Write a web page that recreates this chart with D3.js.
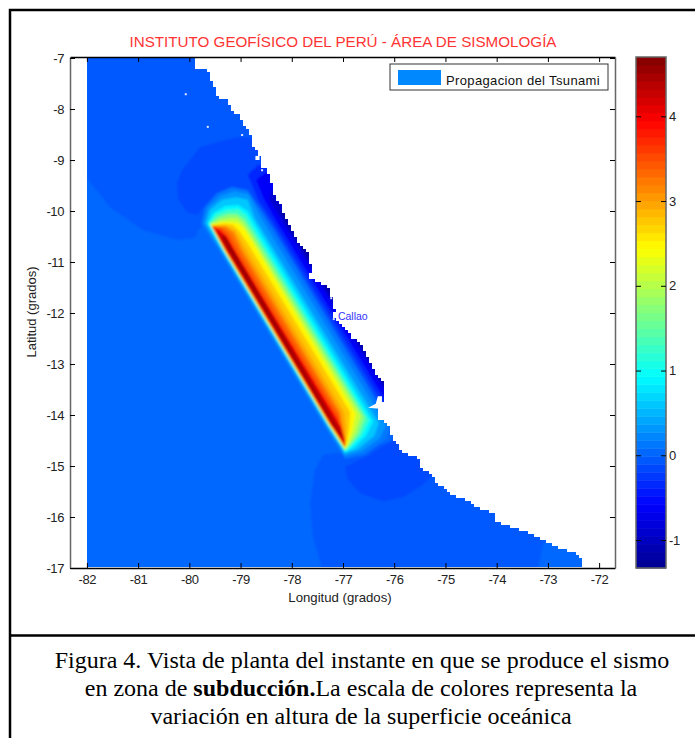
<!DOCTYPE html>
<html>
<head>
<meta charset="utf-8">
<script src="https://cdnjs.cloudflare.com/ajax/libs/d3/7.8.5/d3.min.js"></script>
<style>
  html, body { margin: 0; padding: 0; background: #fff; }
  svg { display: block; }
  text { font-family: "Liberation Sans", Arial, sans-serif; }
</style>
</head>
<body>
<div id="mapa"></div>
<script>
// ticks and labels
const lonTicks = [-82, -81, -80, -79, -78, -77, -76, -75, -74, -73, -72]
const latTicks = [-7, -8, -9, -10, -11, -12, -13, -14, -15, -16, -17]
const barTicks = [4, 3, 2, 1, 0, -1]
const titulo = "INSTITUTO GEOFÍSICO DEL PERÚ - ÁREA DE SISMOLOGÍA"
const leyenda = "Propagacion del Tsunami"

// colormap anchors (jet)
const jetPos = [0, .125, .375, .625, .875, 1]
const jetCol = ["#00008f", "#0000ff", "#00ffff", "#ffff00", "#ff0000", "#800000"]

// coast, lon/lat, ocean is on the left of it
const costa = [[-82,-6.98],[-79.89,-6.98],[-79.89,-7.20],[-79.64,-7.20],[-79.58,-7.43],[-79.48,-7.59],[-79.46,-7.75],[-79.27,-7.82],
  [-79.17,-8.02],[-79.01,-8.14],[-78.91,-8.33],[-78.78,-8.55],[-78.76,-8.76],[-78.64,-8.86],[-78.58,-9.14],[-78.48,-9.16],
  [-78.43,-9.35],[-78.33,-9.73],[-78.23,-9.82],[-78.21,-9.94],[-78.09,-10.18],[-77.98,-10.41],[-77.88,-10.63],[-77.70,-10.76],
  [-77.61,-11.12],[-77.68,-11.31],[-77.45,-11.39],[-77.29,-11.51],[-77.20,-11.75],[-77.16,-11.98],[-77.20,-12.10],[-77.00,-12.24],
  [-76.82,-12.49],[-76.67,-12.59],[-76.53,-12.86],[-76.37,-13.18],[-76.22,-13.37],[-76.18,-13.65],[-76.28,-13.84],[-76.32,-14.10],
  [-76.12,-14.16],[-76.08,-14.35],[-75.93,-14.59],[-75.83,-14.73],[-75.54,-14.84],[-75.44,-15.08],[-75.24,-15.18],[-75.18,-15.33],
  [-75.01,-15.43],[-74.85,-15.57],[-74.52,-15.71],[-74.42,-15.80],[-74.07,-15.92],[-74.03,-16.06],[-73.74,-16.20],[-73.35,-16.31],
  [-73.09,-16.47],[-72.86,-16.55],[-72.76,-16.63],[-72.37,-16.73],[-72.35,-17],[-82,-17]]

// little islands / holes
const islotes = [[-80.07,-7.71],[-79.64,-8.35],[-78.97,-8.51],[-78.58,-9.2],[-77.23,-11.71],[-77.18,-12.12]]
const bahia = [[-76.51,-13.86],[-76.36,-13.78],[-76.32,-13.63],[-76.24,-13.63],[-76.24,-13.88]]
const hueco = [[-78.71,-8.92],[-78.63,-8.92],[-78.63,-9.0],[-78.71,-9.0]]

// sea level in the background, 0 everywhere except these patches
const nivelMar = 0
const nivelesFondo = [-0.09, -0.18, -0.09, -0.18]
const zonasFondo = [
  [[-82,-6.98],[-77.45,-6.98],[-77.45,-10.37],[-79.64,-10.22],[-79.83,-10.37],[-79.89,-10.53],[-80.24,-10.57],[-80.91,-10.37],[-81.55,-9.92],[-82,-9.35]],
  [[-80.24,-9.45],[-80.14,-9.20],[-79.79,-8.75],[-79.07,-8.55],[-78.70,-8.57],[-78.43,-9.59],[-79.01,-9.59],[-79.50,-9.69],[-79.70,-9.88],[-79.85,-10.08],[-80.05,-10.02],[-80.22,-9.75]],
  [[-76.98,-14.73],[-77.39,-14.78],[-77.55,-15.08],[-77.64,-15.73],[-77.59,-16.39],[-77.41,-17],[-73.19,-17],[-73.11,-16.61],[-73.0,-16.35],[-73.93,-15.47],[-75.89,-14.49]],
  [[-76.96,-15.02],[-76.90,-15.27],[-76.67,-15.53],[-76.22,-15.69],[-75.83,-15.61],[-75.44,-15.37],[-75.18,-15.12],[-75.50,-14.49],[-75.89,-14.39],[-76.47,-14.78]]
]

// subsidence along the coast
const nivelesCosta = [-0.15, -0.3, -0.58, -0.9, -1.2]
const zonasCosta = [
  [[-78.82,-9.10],[-78.93,-9.29],[-78.78,-9.78],[-78.43,-10.22],[-76.30,-13.78],[-75.50,-13.78],[-75.50,-9.10]],
  [[-78.66,-9.10],[-78.86,-9.29],[-78.66,-9.78],[-78.37,-10.22],[-76.24,-13.75],[-75.50,-13.75],[-75.50,-9.10]],
  [[-78.50,-9.24],[-78.70,-9.39],[-78.54,-9.78],[-78.29,-10.22],[-76.20,-13.67],[-75.50,-13.67],[-75.50,-9.24]],
  [[-78.39,-9.59],[-78.43,-9.78],[-78.17,-10.22],[-76.14,-13.59],[-75.50,-13.59],[-75.50,-9.59]],
  [[-78.23,-10.02],[-76.14,-13.51],[-75.50,-13.51],[-75.50,-10.02]]
]

// uplift over the rupture, one closed isoline per level, lowest first
const nivelesFalla = [0.12, 0.3, 0.6, 0.93, 1.3, 1.7, 2.1, 2.44, 2.8, 3.0, 3.2, 3.4, 3.6, 3.95, 4.3, 4.6]
const isoFalla = [
  [[-79.77,-10.25],[-79.70,-9.94],[-79.46,-9.65],[-79.17,-9.53],[-78.87,-9.59],[-78.56,-10.04],[-76.06,-14.20],[-76.18,-14.49],[-76.57,-14.78],[-76.96,-14.86],[-77.04,-14.73],[-77.37,-14.20],[-79.43,-10.76]],
  [[-79.72,-10.24],[-79.64,-9.94],[-79.40,-9.71],[-79.13,-9.61],[-78.84,-9.67],[-78.62,-10.10],[-76.16,-14.20],[-76.28,-14.45],[-76.63,-14.71],[-76.96,-14.80],[-77.02,-14.71],[-77.34,-14.20],[-79.40,-10.76]],
  [[-79.68,-10.24],[-79.60,-9.98],[-79.36,-9.78],[-79.09,-9.73],[-78.86,-9.78],[-78.72,-10.14],[-76.30,-14.16],[-76.39,-14.41],[-76.71,-14.67],[-76.98,-14.76],[-76.99,-14.69],[-77.31,-14.20],[-79.37,-10.76]],
  [[-79.64,-10.24],[-79.54,-10.04],[-79.30,-9.90],[-79.05,-9.88],[-78.86,-10.00],[-78.74,-10.22],[-76.41,-14.12],[-76.55,-14.41],[-76.80,-14.65],[-76.96,-14.73],[-77.29,-14.20],[-79.35,-10.76]],
  [[-79.62,-10.24],[-79.48,-10.06],[-79.27,-9.98],[-79.05,-9.96],[-78.89,-10.08],[-78.76,-10.31],[-76.49,-14.10],[-76.63,-14.39],[-76.84,-14.61],[-76.96,-14.71],[-77.28,-14.20],[-79.34,-10.76]],
  [[-79.60,-10.25],[-79.44,-10.12],[-79.25,-10.06],[-79.07,-10.06],[-78.93,-10.16],[-78.78,-10.39],[-76.57,-14.06],[-76.69,-14.37],[-76.86,-14.59],[-76.96,-14.69],[-77.28,-14.20],[-79.33,-10.76]],
  [[-79.59,-10.26],[-79.40,-10.18],[-79.21,-10.14],[-79.07,-10.14],[-78.95,-10.24],[-78.80,-10.47],[-76.65,-14.02],[-76.75,-14.33],[-76.88,-14.57],[-76.96,-14.67],[-77.27,-14.20],[-79.33,-10.76]],
  [[-79.58,-10.27],[-79.36,-10.22],[-79.17,-10.22],[-79.05,-10.24],[-78.93,-10.35],[-78.80,-10.55],[-76.75,-13.98],[-76.82,-14.31],[-76.90,-14.53],[-76.96,-14.65],[-77.26,-14.20],[-79.32,-10.76]],
  [[-79.57,-10.28],[-79.32,-10.25],[-79.15,-10.27],[-79.01,-10.41],[-78.86,-10.63],[-76.86,-13.94],[-76.88,-14.25],[-76.92,-14.49],[-76.96,-14.63],[-77.25,-14.20],[-79.31,-10.76]],
  [[-79.56,-10.29],[-79.29,-10.29],[-79.11,-10.37],[-78.93,-10.69],[-76.98,-13.94],[-76.94,-14.25],[-76.94,-14.49],[-76.96,-14.61],[-77.25,-14.20],[-79.31,-10.76]],
  [[-79.56,-10.30],[-79.29,-10.31],[-79.13,-10.43],[-78.97,-10.76],[-77.06,-13.94],[-77.00,-14.25],[-76.96,-14.45],[-76.96,-14.59],[-77.24,-14.20],[-79.30,-10.76]],
  [[-79.56,-10.30],[-79.36,-10.33],[-79.21,-10.45],[-78.99,-10.84],[-77.08,-14.00],[-77.02,-14.29],[-76.96,-14.57],[-77.24,-14.20],[-79.30,-10.76]],
  [[-79.55,-10.31],[-79.40,-10.35],[-79.25,-10.49],[-79.04,-10.92],[-77.10,-14.06],[-77.03,-14.33],[-76.96,-14.55],[-77.24,-14.20],[-79.29,-10.76]],
  [[-79.55,-10.31],[-79.40,-10.37],[-79.25,-10.53],[-77.04,-14.22],[-76.96,-14.53],[-76.96,-14.63],[-77.23,-14.20],[-79.29,-10.76]],
  [[-79.48,-10.37],[-79.30,-10.49],[-77.03,-14.29],[-76.96,-14.55],[-77.21,-14.20],[-79.27,-10.76]],
  [[-79.36,-10.49],[-79.31,-10.49],[-77.02,-14.41],[-76.98,-14.51],[-77.18,-14.20],[-79.23,-10.76]]
]

// Callao label
const callao = [-77.10, -12.14]

var width = 695, height = 738

var svg = d3.select("#mapa").append("svg")
  .attr("width", width)
  .attr("height", height)

// outer frame of the figure
svg.append("path")
  .attr("d", "M10,738V10H695M10,635.5H695")
  .attr("fill", "none")
  .attr("stroke", "#000")
  .attr("stroke-width", 2.5)

var x = d3.scaleLinear().domain([-82.33, -71.69]).range([70, 615])
var y = d3.scaleLinear().domain([-6.98, -17]).range([57, 568])
var yBar = d3.scaleLinear().domain([4.70, -1.33]).range([57, 568])

// 64 steps of jet
var jet = d3.scaleLinear().domain(jetPos).range(jetCol).clamp(true)
var pasos = d3.range(64).map(i => jet((i + .5) / 64))
var color = d3.scaleQuantize().domain([-1.33, 4.70]).range(pasos)

var line = d3.line().x(d => x(d[0])).y(d => y(d[1])).curve(d3.curveLinearClosed)

// sea mask in 3px cells so the coast keeps the stairs of the original grid
var costaPx = costa.map(d => [x(d[0]), y(d[1])])
var celda = 3
var mascara = ""
d3.range(57, 568, celda).forEach(fila => {
  var ini = null
  d3.range(87, 600, celda).forEach(col => {
    var dentro = d3.polygonContains(costaPx, [col + celda / 2, fila + celda / 2])
    if (dentro && ini === null) ini = col
    if (!dentro && ini !== null) {
      mascara += "M" + ini + "," + fila + "H" + col + "V" + (fila + celda) + "H" + ini + "Z"
      ini = null
    }
  })
})

var defs = svg.append("defs")
defs.append("clipPath").attr("id", "mar")
  .append("path").attr("d", mascara)
defs.append("filter").attr("id", "suave")
  .attr("x", "-5%").attr("y", "-5%").attr("width", "110%").attr("height", "110%")
  .append("feGaussianBlur").attr("stdDeviation", 0.8)

var mar = svg.append("g").attr("clip-path", "url(#mar)")
var campo = mar.append("g").attr("filter", "url(#suave)")

// base sea, a bit larger than the coast so the blur does not eat the edge
campo.append("rect")
  .attr("x", x(-82.33)).attr("y", y(-6.98) - 5)
  .attr("width", x(-71.69) - x(-82.33)).attr("height", y(-17) - y(-6.98) + 10)
  .attr("fill", color(nivelMar))

function capas(niveles, formas) {
  campo.selectAll(null)
    .data(formas)
    .enter()
    .append("path")
      .attr("d", line)
      .attr("fill", (d, i) => color(niveles[i]))
}
capas(nivelesFondo, zonasFondo)
capas(nivelesCosta, zonasCosta)
capas(nivelesFalla, isoFalla)

// white specks on the sea
svg.selectAll(null).data(islotes).enter().append("rect")
  .attr("x", d => x(d[0]) - 1).attr("y", d => y(d[1]) - 1)
  .attr("width", 2).attr("height", 2)
  .attr("fill", "#dfeaff")
svg.selectAll(null).data([bahia, hueco]).enter().append("path")
  .attr("d", line).attr("fill", "#fff")

// axes on the four sides, ticks pointing in
function pinta(g, col) {
  g.select(".domain").attr("stroke", col).attr("stroke-width", 1.5)
  g.selectAll(".tick line").attr("stroke", "#000")
  g.selectAll(".tick text")
    .attr("fill", "#222")
    .style("font-size", "13px")
    .style("letter-spacing", "-0.4px")
    .style("font-family", '"Liberation Sans", Arial, sans-serif')
}
var etiqueta = d => String(d)
svg.append("g").attr("transform", "translate(0,568)")
  .call(d3.axisBottom(x).tickValues(lonTicks).tickSizeOuter(0).tickSizeInner(-5).tickPadding(7).tickFormat(etiqueta))
  .call(pinta, "#000")
svg.append("g").attr("transform", "translate(0,57)")
  .call(d3.axisTop(x).tickValues(lonTicks).tickSizeOuter(0).tickSizeInner(-5).tickFormat(""))
  .call(pinta, "#000")
svg.append("g").attr("transform", "translate(70,0)")
  .call(d3.axisLeft(y).tickValues(latTicks).tickSizeOuter(0).tickSizeInner(-5).tickPadding(6).tickFormat(etiqueta))
  .call(pinta, "#666")
svg.append("g").attr("transform", "translate(615,0)")
  .call(d3.axisRight(y).tickValues(latTicks).tickSizeOuter(0).tickSizeInner(-5).tickFormat(""))
  .call(pinta, "#666")

// titles
svg.append("text")
  .attr("x", 343).attr("y", 47)
  .attr("text-anchor", "middle")
  .attr("fill", "#ff3333")
  .style("font-size", "15.2px")
  .text(titulo)
svg.append("text")
  .attr("x", 340).attr("y", 602)
  .attr("text-anchor", "middle")
  .attr("fill", "#222")
  .style("font-size", "13.2px")
  .text("Longitud (grados)")
svg.append("text")
  .attr("transform", "translate(36,312) rotate(-90)")
  .attr("text-anchor", "middle")
  .attr("fill", "#222")
  .style("font-size", "13px")
  .text("Latitud (grados)")

// Callao
svg.append("text")
  .attr("x", x(callao[0])).attr("y", y(callao[1]))
  .attr("fill", "#3333ff")
  .style("font-size", "10.5px")
  .text("Callao")

// legend box
var caja = svg.append("g")
caja.append("rect")
  .attr("x", 390).attr("y", 64).attr("width", 218).attr("height", 26)
  .attr("fill", "#fff").attr("stroke", "#333").attr("stroke-width", 1)
caja.append("rect")
  .attr("x", 398).attr("y", 70).attr("width", 43).attr("height", 15)
  .attr("fill", "#0088ff")
caja.append("text")
  .attr("x", 446).attr("y", 85)
  .attr("fill", "#111")
  .style("font-size", "13px")
  .style("letter-spacing", "0.36px")
  .text(leyenda)

// colorbar
var barra = svg.append("g")
barra.selectAll("rect")
  .data(pasos)
  .enter()
  .append("rect")
    .attr("x", 636)
    .attr("width", 30)
    .attr("y", (d, i) => yBar(-1.33 + (i + 1) * (6.03 / 64)))
    .attr("height", 511 / 64 + .5)
    .attr("fill", d => d)
barra.append("rect")
  .attr("x", 636).attr("y", 57).attr("width", 30).attr("height", 511)
  .attr("fill", "none").attr("stroke", "#666").attr("stroke-width", 1.5)
svg.append("g").attr("transform", "translate(666,0)")
  .call(d3.axisRight(yBar).tickValues(barTicks).tickSizeOuter(0).tickSizeInner(-5).tickPadding(3).tickFormat(etiqueta))
  .call(g => g.select(".domain").remove())
  .call(pinta, "#666")
svg.append("g").attr("transform", "translate(636,0)")
  .call(d3.axisLeft(yBar).tickValues(barTicks).tickSizeOuter(0).tickSizeInner(-5).tickFormat(""))
  .call(g => g.select(".domain").remove())
  .call(pinta, "#666")

// caption
var pie = svg.append("g")
  .attr("text-anchor", "middle")
  .attr("fill", "#000")
  .style("font-size", "24px")
  .style("white-space", "pre")
  .style("font-family", '"Liberation Serif", "Times New Roman", serif')
pie.append("text").attr("x", 362).attr("y", 668)
  .style("font-family", "inherit")
  .text("Figura 4. Vista de planta del instante en que se produce el sismo")
var l2 = pie.append("text").attr("x", 361).attr("y", 696).style("font-family", "inherit")
l2.append("tspan").text("en zona de ")
l2.append("tspan").attr("font-weight", "bold").text("subducción.")
l2.append("tspan").text("La escala de colores representa la")
pie.append("text").attr("x", 361).attr("y", 724)
  .style("font-family", "inherit")
  .text("variación en altura de  la superficie oceánica")
</script>
</body>
</html>
